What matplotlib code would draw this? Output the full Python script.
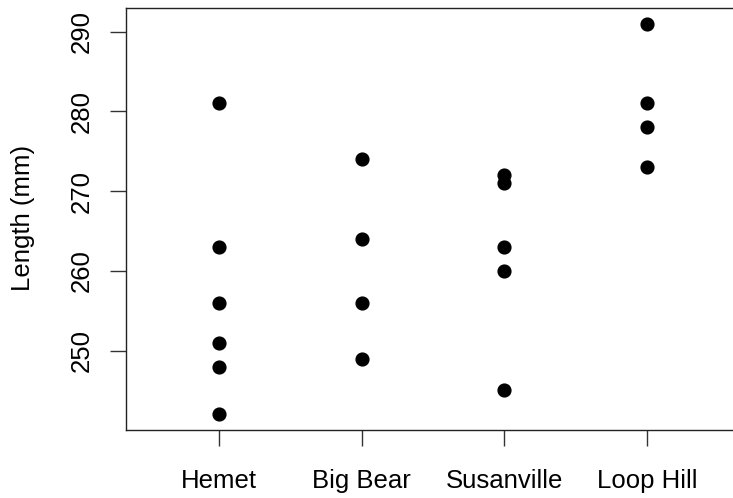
import matplotlib.pyplot as plt

plt.rcParams['font.family'] = ['Liberation Sans', 'DejaVu Sans']

# ----------------------------
# Data
# ----------------------------
sites = ["Hemet", "Big Bear", "Susanville", "Loop Hill"]
hemet = [281, 263, 256, 251, 248, 242]
big_bear = [274, 264, 256, 249]
susanville = [272, 271, 263, 260, 245]
loop_hill = [291, 281, 278, 273]
lengths = [hemet, big_bear, susanville, loop_hill]
y_ticks = [250, 260, 270, 280, 290]

# ----------------------------
# Plot (R stripchart look)
# ----------------------------
W, H = 733, 498
fig = plt.figure(figsize=(W / 100, H / 100), dpi=100)
ax = fig.add_axes([126 / W, 1 - 430 / H, (W - 126) / W, (430 - 8) / H])

for i, vals in enumerate(lengths, start=1):
    ax.plot([i] * len(vals), vals, "o", color="black", markersize=9.2,
            linestyle="none", clip_on=False)

ax.set_xlim(0.348, 4.603)
ax.set_ylim(240.04, 292.96)
ax.set_xticks(range(1, len(sites) + 1))
ax.set_xticklabels(sites)
ax.set_yticks(y_ticks)
ax.set_yticklabels([str(v) for v in y_ticks], rotation=90, va="center")

ax.spines["right"].set_visible(False)
for s in ["left", "top", "bottom"]:
    ax.spines[s].set_linewidth(1.0)
    ax.spines[s].set_color("#222222")
ax.tick_params(axis="both", length=11.5, width=1.0, labelsize=18.5,
               color="#333333")
ax.tick_params(axis="x", pad=16.5)
ax.tick_params(axis="y", pad=12)

fig.text(23 / W, 1 - 218 / H, "Length (mm)", rotation=90, ha="center",
         va="center", fontsize=18.5)

fig.savefig("out.png", dpi=100)
